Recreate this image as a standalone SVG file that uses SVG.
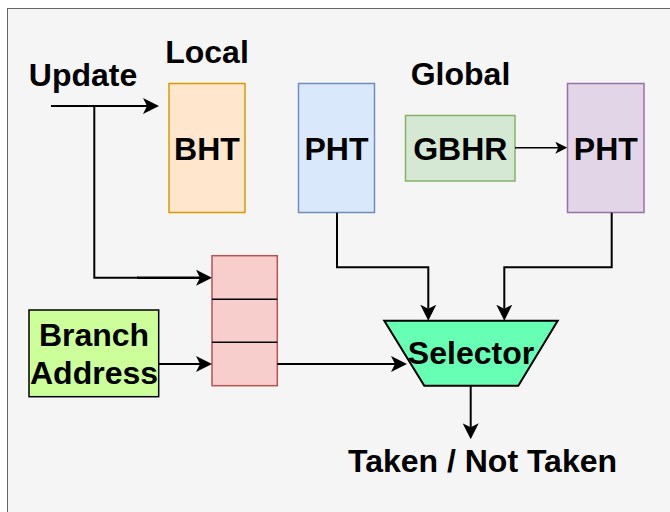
<svg xmlns="http://www.w3.org/2000/svg" width="670" height="512" viewBox="0 0 670 512">
<style>
text{font-family:"Liberation Sans",Arial,Helvetica,sans-serif;font-weight:bold;font-size:32px;fill:#000;text-anchor:middle}
.ln{fill:none;stroke:#000;stroke-width:2}
.thin{fill:none;stroke:#000;stroke-width:1.5}
</style>
<defs>
<marker id="ah" markerUnits="userSpaceOnUse" viewBox="0 0 16 16" refX="4" refY="8" markerWidth="16" markerHeight="16" orient="auto">
<path d="M0,0 L16,8 L0,16 L4,8 Z" fill="#000"/>
</marker>
<marker id="ahs" markerUnits="userSpaceOnUse" viewBox="0 0 12 12" refX="3" refY="6" markerWidth="12" markerHeight="12" orient="auto">
<path d="M0,0 L12,6 L0,12 L3,6 Z" fill="#000"/>
</marker>
</defs>
<rect x="7.5" y="8.5" width="700" height="600" fill="#f5f5f5" stroke="#666" stroke-width="1"/>
<text x="207" y="63">Local</text>
<text x="460.5" y="85">Global</text>
<g id="update"><text x="83" y="85.5">Update</text></g>
<g id="bht"><rect x="169" y="83.5" width="76" height="129" fill="#ffe6cc" stroke="#d79b00" stroke-width="1.5"/><text x="207" y="160">BHT</text></g>
<g id="pht-local"><rect x="298.5" y="83.5" width="76" height="129" fill="#dae8fc" stroke="#6c8ebf" stroke-width="1.5"/><text x="336.5" y="160">PHT</text></g>
<g id="gbhr"><rect x="405.5" y="115.5" width="109.5" height="65.5" fill="#d5e8d4" stroke="#82b366" stroke-width="1.5"/><text x="460.3" y="160">GBHR</text></g>
<g id="pht-global"><rect x="567.5" y="83.5" width="76.5" height="129" fill="#e1d5e7" stroke="#9673a6" stroke-width="1.5"/><text x="605.8" y="160">PHT</text></g>
<g id="register"><rect x="212" y="255.7" width="65.3" height="130" fill="#f8cecc" stroke="#b85450" stroke-width="1.5"/><line x1="212" y1="299.3" x2="277.3" y2="299.3" stroke="#000" stroke-width="1.5"/><line x1="212" y1="342.3" x2="277.3" y2="342.3" stroke="#000" stroke-width="1.5"/></g>
<g id="branch-address"><rect x="29" y="310" width="129.7" height="86.7" fill="#ccff99" stroke="#000" stroke-width="1.5"/><text x="94" y="346">Branch</text><text x="94" y="384">Address</text></g>
<g id="selector"><path d="M384.3,320.7 L557.7,320.7 L518.3,385.7 L424.3,385.7 Z" fill="#66ffb3" stroke="#000" stroke-width="2"/><text x="471" y="364">Selector</text></g>
<g id="output"><text x="482.5" y="471.7">Taken / Not Taken</text></g>
<g id="connectors">
<path class="ln" d="M51,106 L147,106" marker-end="url(#ah)"/>
<path class="ln" d="M94.3,106 L94.3,277.7 L138,277.7"/>
<path class="ln" style="stroke-width:2.5" d="M137,277.7 L200,277.7" marker-end="url(#ah)"/>
<path class="ln" d="M158.7,364 L200,364" marker-end="url(#ah)"/>
<path class="ln" d="M277.3,364 L395,364" marker-end="url(#ah)"/>
<path class="thin" d="M515,147.7 L558.3,147.7" marker-end="url(#ahs)"/>
<path class="ln" d="M337,212.7 L337,267.3 L428.3,267.3 L428.3,308.7" marker-end="url(#ah)"/>
<path class="ln" d="M611.7,212.7 L611.7,267.3 L504.3,267.3 L504.3,308.7" marker-end="url(#ah)"/>
<path class="ln" d="M470.7,385.7 L470.7,427.3" marker-end="url(#ah)"/>
</g>
</svg>
